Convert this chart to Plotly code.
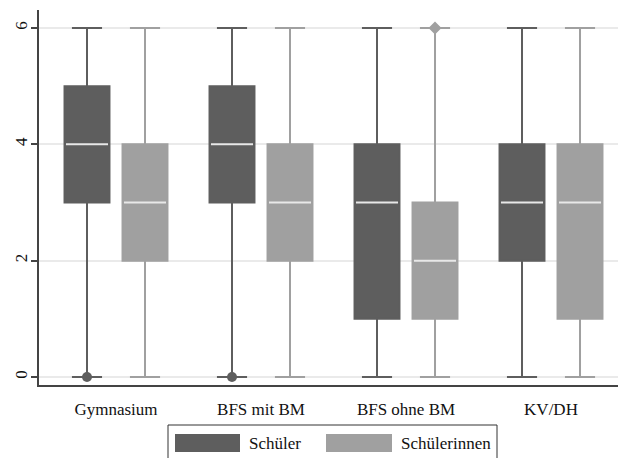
import plotly.graph_objects as go

categories = ["Gymnasium", "BFS mit BM", "BFS ohne BM", "KV/DH"]
series = ["Schüler", "Schülerinnen"]

# Schüler
m_low = [0, 0, 0, 0]
m_q1 = [3, 3, 1, 2]
m_med = [4, 4, 3, 3]
m_q3 = [5, 5, 4, 4]
m_high = [6, 6, 6, 6]
m_out = [0, 0, None, None]

# Schülerinnen
f_low = [0, 0, 0, 0]
f_q1 = [2, 2, 1, 1]
f_med = [3, 3, 2, 3]
f_q3 = [4, 4, 3, 4]
f_high = [6, 6, 6, 6]
f_out = [None, None, 6, None]

y_ticks = [0, 2, 4, 6]

colors = ["#5e5e5e", "#a0a0a0"]
median_color = "#e8e8e8"
FONT = "Liberation Serif, Times New Roman, serif"

offsets = [-0.2, 0.2]
box_w = 0.31
pos = list(range(len(categories)))

fig = go.Figure()

def add_series(k, low, q1, med, q3, high, out, symbol):
    color = colors[k]
    xs = [p + offsets[k] for p in pos]
    fig.add_trace(go.Box(
        x=xs, q1=q1, median=med, q3=q3, lowerfence=low, upperfence=high,
        width=box_w, name=series[k],
        fillcolor=color, line=dict(color=color, width=2),
        whiskerwidth=0.67, boxpoints=False, showlegend=False,
    ))
    fig.add_trace(go.Box(
        x=xs, q1=med, median=med, q3=med, lowerfence=med, upperfence=med,
        width=box_w - 0.02, name=series[k] + " median",
        fillcolor="rgba(0,0,0,0)", line=dict(color=median_color, width=2),
        whiskerwidth=0, boxpoints=False, showlegend=False, hoverinfo="skip",
    ))
    fig.add_trace(go.Scatter(
        x=xs, y=out, mode="markers", showlegend=False,
        marker=dict(color=color, symbol=symbol, size=10, line=dict(width=0)),
    ))

add_series(0, m_low, m_q1, m_med, m_q3, m_high, m_out, "circle")
add_series(1, f_low, f_q1, f_med, f_q3, f_high, f_out, "diamond")

# Manual legend (Stata style)
fig.add_shape(type="rect", xref="paper", yref="paper",
              x0=(168 - 39) / 579, x1=(497 - 39) / 579,
              y0=(385 - 470) / 375, y1=(385 - 425) / 375,
              line=dict(color="#333333", width=1), fillcolor="white")
sw = [(175, 240), (326, 392)]
tx = [247, 399]
for i, s in enumerate(series):
    fig.add_shape(type="rect", xref="paper", yref="paper",
                  x0=(sw[i][0] - 39) / 579, x1=(sw[i][1] - 39) / 579,
                  y0=(385 - 452) / 375, y1=(385 - 434) / 375,
                  line=dict(width=0), fillcolor=colors[i])
    fig.add_annotation(text=s, xref="paper", yref="paper",
                       x=(tx[i] - 39) / 579, y=(385 - 443) / 375,
                       xanchor="left", yanchor="middle", showarrow=False,
                       font=dict(family=FONT, size=17, color="#111111"))

fig.update_layout(
    width=619, height=458,
    margin=dict(l=39, r=1, t=10, b=73),
    paper_bgcolor="white", plot_bgcolor="white",
    boxmode="overlay",
    font=dict(family=FONT, size=17, color="#111111"),
    showlegend=False,
)
fig.update_xaxes(
    range=[-0.531, 3.462], tickvals=pos, ticktext=categories,
    showline=True, linecolor="#444444", linewidth=1.5,
    ticks="", showgrid=False, zeroline=False, ticklabelstandoff=8,
    tickfont=dict(family=FONT, size=17, color="#111111"),
)
fig.update_yaxes(
    range=[-0.1375, 6.309], tickvals=y_ticks, ticktext=[str(v) for v in y_ticks],
    showline=True, linecolor="#444444", linewidth=1.5,
    ticks="outside", ticklen=6, tickcolor="#444444", tickwidth=1.5,
    tickangle=-90, showgrid=True, gridcolor="#eaeaea", gridwidth=1.5,
    zeroline=False, ticklabelstandoff=-3,
    tickfont=dict(family=FONT, size=17, color="#111111"),
)

fig.write_html("out.html", config={"displayModeBar": False},
               post_script="document.body.style.margin='0';document.body.style.padding='0';document.body.style.overflow='hidden';")
